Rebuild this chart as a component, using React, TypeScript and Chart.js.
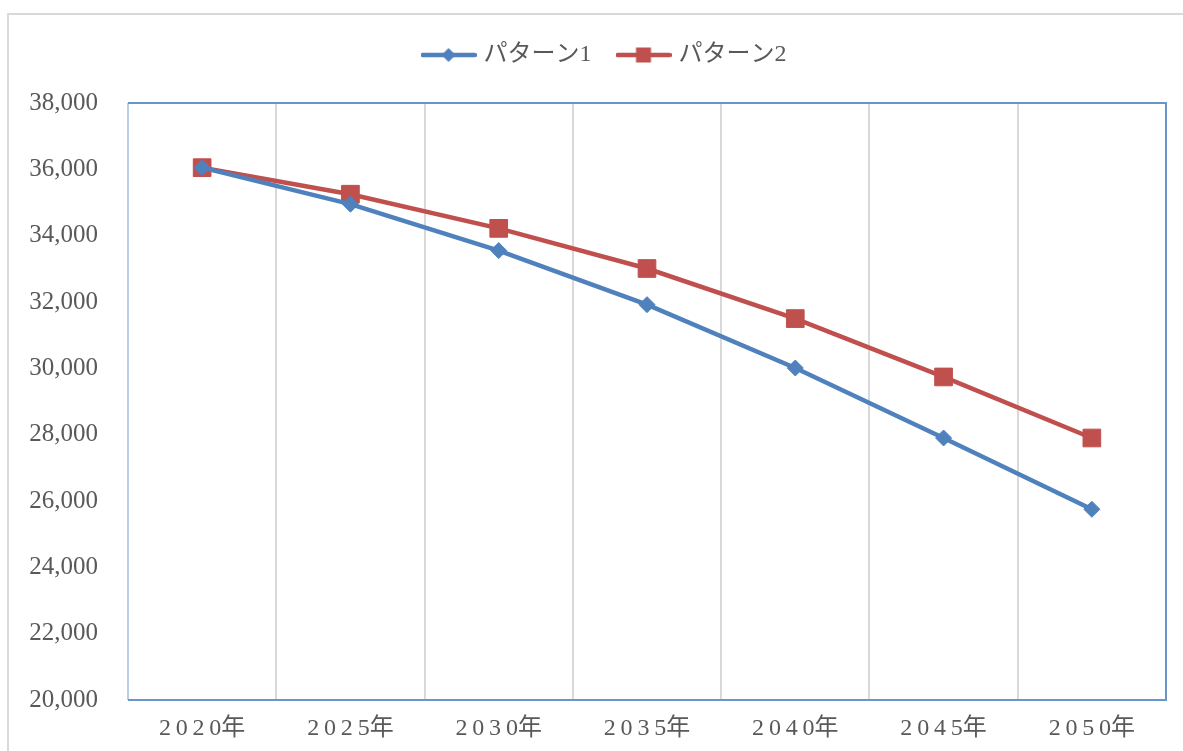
import React, { useEffect, useRef } from "react";
import { Chart, registerables } from "chart.js";

Chart.register(...registerables);

const categories = ["2020年", "2025年", "2030年", "2035年", "2040年", "2045年", "2050年"];
const pattern1 = [36050, 34950, 33550, 31920, 30010, 27900, 25750];
const pattern2 = [36050, 35250, 34220, 33010, 31500, 29740, 27900];
const seriesNames = ["パターン1", "パターン2"];
const yMin = 20000;
const yMax = 38000;
const yStep = 2000;

const BLUE = "#4f81bd";
const RED = "#c0504d";
const FONT = "'Liberation Serif', 'Noto Sans CJK JP', serif";
const TEXT = "#595959";

function makeLegendIcon(color: string, kind: "diamond" | "square"): HTMLCanvasElement {
  const c = document.createElement("canvas");
  c.width = 56;
  c.height = 20;
  const ctx = c.getContext("2d")!;
  ctx.strokeStyle = color;
  ctx.fillStyle = color;
  ctx.lineWidth = 4.5;
  ctx.lineCap = "round";
  ctx.beginPath();
  ctx.moveTo(2, 10);
  ctx.lineTo(54, 10);
  ctx.stroke();
  ctx.beginPath();
  if (kind === "diamond") {
    ctx.moveTo(28, 3);
    ctx.lineTo(35, 10);
    ctx.lineTo(28, 17);
    ctx.lineTo(21, 10);
    ctx.closePath();
  } else {
    ctx.rect(20.5, 2.5, 15, 15);
  }
  ctx.fill();
  return c;
}

const plotBorder = {
  id: "plotBorder",
  beforeDatasetsDraw(chart: any) {
    const { ctx, chartArea } = chart;
    const { left, right, top, bottom } = chartArea;
    ctx.save();
    ctx.lineWidth = 2;
    ctx.strokeStyle = "#b9cde5";
    ctx.beginPath();
    ctx.moveTo(left, top);
    ctx.lineTo(left, bottom);
    ctx.stroke();
    ctx.strokeStyle = "#6a95c9";
    ctx.beginPath();
    ctx.moveTo(left, top);
    ctx.lineTo(right, top);
    ctx.lineTo(right, bottom);
    ctx.lineTo(left, bottom);
    ctx.stroke();
    ctx.restore();
  },
};

function spaced(label: string): string {
  const chars = Array.from(label);
  const last = chars.pop() as string;
  return chars.join("\u2009") + last;
}

export default function App() {
  const ref = useRef<HTMLCanvasElement | null>(null);

  useEffect(() => {
    if (!ref.current) return;
    const icons = [makeLegendIcon(BLUE, "diamond"), makeLegendIcon(RED, "square")];
    const chart = new Chart(ref.current, {
      type: "line",
      data: {
        labels: categories,
        datasets: [
          {
            label: seriesNames[0],
            data: pattern1,
            xAxisID: "x",
            yAxisID: "y",
            borderColor: BLUE,
            backgroundColor: BLUE,
            borderWidth: 4.5,
            pointStyle: "rectRot",
            pointRadius: 8,
            pointBorderWidth: 1,
            tension: 0,
          },
          {
            label: seriesNames[1],
            data: pattern2,
            xAxisID: "x",
            yAxisID: "y",
            borderColor: RED,
            backgroundColor: RED,
            borderWidth: 4.5,
            pointStyle: "rect",
            pointRadius: 12.5,
            pointBorderWidth: 1,
            tension: 0,
          },
        ],
      },
      options: {
        responsive: false,
        animation: false,
        layout: { padding: { left: 46, right: 17, top: 14, bottom: 0 } },
        plugins: {
          tooltip: { enabled: false },
          legend: {
            position: "top",
            labels: {
              usePointStyle: true,
              pointStyleWidth: 46,
              padding: 29,
              color: TEXT,
              font: { family: FONT, size: 24 },
              generateLabels: (chart: any) =>
                chart.data.datasets.map((ds: any, i: number) => ({
                  text: ds.label,
                  fillStyle: ds.backgroundColor,
                  strokeStyle: ds.borderColor,
                  lineWidth: 0,
                  pointStyle: icons[i],
                  fontColor: TEXT,
                  hidden: false,
                  datasetIndex: i,
                })),
            },
          },
        },
        scales: {
          xTop: {
            type: "linear",
            position: "top",
            display: true,
            grid: { display: false, drawTicks: false },
            border: { display: false },
            ticks: { display: false },
            afterFit: (s: any) => {
              s.height = 26;
            },
          },
          x: {
            type: "category",
            offset: true,
            grid: { display: true, offset: true, color: "#d9d9d9", lineWidth: 2, drawTicks: false },
            border: { display: false },
            ticks: {
              color: TEXT,
              padding: 14,
              font: { family: FONT, size: 24 },
              maxRotation: 0,
              autoSkip: false,
              callback: function (this: any, v: any, i: number) {
                return spaced(categories[i]);
              },
            },
            afterFit: (s: any) => {
              s.height = 51;
            },
          },
          y: {
            min: yMin,
            max: yMax,
            grid: { display: false, drawTicks: false },
            border: { display: false },
            ticks: {
              stepSize: yStep,
              color: TEXT,
              padding: 30,
              font: { family: FONT, size: 25 },
            },
            afterFit: (s: any) => {
              s.width = 82;
            },
            afterUpdate: (s: any) => {
              s._computeLabelArea = () => undefined;
            },
          },
        },
      },
      plugins: [plotBorder],
    } as any);
    return () => chart.destroy();
  }, []);

  return (
    <div style={{ position: "fixed", left: 0, top: 0, width: 1183, height: 751, background: "#fff", overflow: "hidden" }}>
      <div
        style={{
          position: "absolute",
          left: 7,
          top: 13,
          width: 1300,
          height: 900,
          border: "2px solid #d9d9d9",
          boxSizing: "border-box",
        }}
      />
      <canvas ref={ref} width={1183} height={751} style={{ position: "absolute", left: 0, top: 0, width: 1183, height: 751 }} />
    </div>
  );
}
